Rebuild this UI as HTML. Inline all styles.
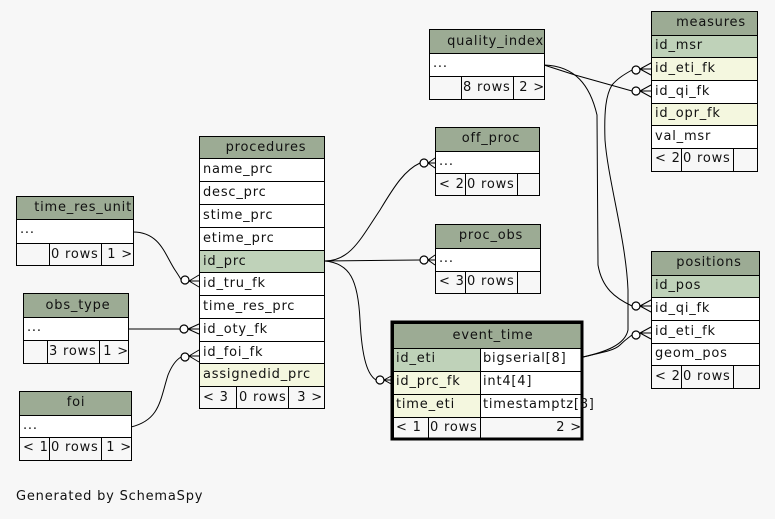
<!DOCTYPE html>
<html><head><meta charset="utf-8"><style>
html,body{margin:0;padding:0;background:#f7f7f7;}
svg{display:block}
text{font-family:"DejaVu Sans","Liberation Sans",sans-serif;font-size:13px;fill:#111;letter-spacing:0.8px}
.h{fill:#9cab94}.pk{fill:#bfd2b9}.fk{fill:#f4f7df}.w{fill:#fff}.f{fill:#f7f7f7}
rect{stroke:#000;stroke-width:1}
.e{fill:none;stroke:#000;stroke-width:1}
.c{fill:#fff;stroke:#000;stroke-width:1.2}
</style></head><body>
<svg width="775" height="519" viewBox="0 0 775 519" xmlns="http://www.w3.org/2000/svg">
<rect x="0" y="0" width="775" height="519" style="fill:#f7f7f7;stroke:none"/>

<path class="e" d="M324.5,261 C350,261 360,240 380,210 C395,185 405,170 420,163"/>
<path class="e" d="M324.5,261 L420,260"/>
<path class="e" d="M324.5,261 C350,263 358,280 360,320 C362,360 368,375 376,380"/>
<path class="e" d="M133,232 C160,232 165,255 175,270 C179,276 181,279 181,280"/>
<path class="e" d="M128,329 L180,329"/>
<path class="e" d="M131,427 C160,420 160,400 168,375 C172,365 176,360 181,357"/>
<path class="e" d="M544,65 L575,75 L632,91"/>
<path class="e" d="M544,65 C575,66 590,85 597,115 L598,265 C602,288 615,298 632,306"/>
<path class="e" d="M583,357 C605,352 625,345 628,330 L628,290 C626,240 608,180 605,140 C604,110 606,95 612,85 C618,78 625,74 632,70"/>
<path class="e" d="M583,357 C605,352 615,350 620,345 C625,340 628,338 632,335"/>

<g>
<circle class="c" cx="424" cy="163" r="4"/><path class="e" d="M428,163 L435,158 M428,163 L435,163 M428,163 L435,168"/>
<circle class="c" cx="424" cy="260" r="4"/><path class="e" d="M428,260 L435,255 M428,260 L435,260 M428,260 L435,265"/>
<circle class="c" cx="380" cy="380" r="4"/><path class="e" d="M384,380 L393,375 M384,380 L393,380 M384,380 L393,385"/>
<circle class="c" cx="185" cy="280" r="4"/><path class="e" d="M189,281 L199,275 M189,281 L199,281 M189,281 L199,287"/>
<circle class="c" cx="184" cy="329" r="4"/><path class="e" d="M188,329 L199,324 M188,329 L199,329 M188,329 L199,334"/>
<circle class="c" cx="185" cy="357" r="4"/><path class="e" d="M189,356 L199,350 M189,356 L199,356 M189,356 L199,362"/>
<circle class="c" cx="636" cy="70" r="4"/><path class="e" d="M640,69 L651,63 M640,69 L651,69 M640,69 L651,75"/>
<circle class="c" cx="636" cy="91" r="4"/><path class="e" d="M640,91 L651,85 M640,91 L651,91 M640,91 L651,97"/>
<circle class="c" cx="636" cy="306" r="4"/><path class="e" d="M640,306 L651,300 M640,306 L651,306 M640,306 L651,312"/>
<circle class="c" cx="636" cy="335" r="4"/><path class="e" d="M640,333 L651,327 M640,333 L651,333 M640,333 L651,339"/>
</g>

<g>
<rect class="h" x="199.5" y="136.5" width="125" height="22"/><text x="266" y="151" text-anchor="middle">procedures</text>
<rect class="w" x="199.5" y="158.5" width="125" height="23"/><text x="203" y="173">name_prc</text>
<rect class="w" x="199.5" y="181.5" width="125" height="23"/><text x="203" y="196">desc_prc</text>
<rect class="w" x="199.5" y="204.5" width="125" height="23"/><text x="203" y="219">stime_prc</text>
<rect class="w" x="199.5" y="227.5" width="125" height="23"/><text x="203" y="242">etime_prc</text>
<rect class="pk" x="199.5" y="250.5" width="125" height="22"/><text x="203" y="265">id_prc</text>
<rect class="w" x="199.5" y="272.5" width="125" height="23"/><text x="203" y="287">id_tru_fk</text>
<rect class="w" x="199.5" y="295.5" width="125" height="23"/><text x="203" y="310">time_res_prc</text>
<rect class="w" x="199.5" y="318.5" width="125" height="23"/><text x="203" y="333">id_oty_fk</text>
<rect class="w" x="199.5" y="341.5" width="125" height="22"/><text x="203" y="356">id_foi_fk</text>
<rect class="fk" x="199.5" y="363.5" width="125" height="23"/><text x="203" y="378">assignedid_prc</text>
<rect class="f" x="199.5" y="386.5" width="37" height="22"/><text x="203" y="401">&lt; 3</text>
<rect class="f" x="236.5" y="386.5" width="52" height="22"/><text x="239" y="401">0 rows</text>
<rect class="f" x="288.5" y="386.5" width="36" height="22"/><text x="323" y="401" text-anchor="end">3 &gt;</text>
</g>

<g>
<rect class="h" x="16.5" y="196.5" width="117" height="23"/><text x="132" y="211" text-anchor="end">time_res_unit</text>
<rect class="w" x="16.5" y="219.5" width="117" height="24"/><text x="20" y="233">...</text>
<rect class="f" x="16.5" y="243.5" width="33" height="22"/>
<rect class="f" x="49.5" y="243.5" width="52" height="22"/><text x="51" y="258">0 rows</text>
<rect class="f" x="101.5" y="243.5" width="32" height="22"/><text x="133" y="258" text-anchor="end">1 &gt;</text>
</g>

<g>
<rect class="h" x="23.5" y="293.5" width="105" height="24"/><text x="78" y="309" text-anchor="middle">obs_type</text>
<rect class="w" x="23.5" y="317.5" width="105" height="23"/><text x="27" y="331">...</text>
<rect class="f" x="23.5" y="340.5" width="24" height="23"/>
<rect class="f" x="47.5" y="340.5" width="52" height="23"/><text x="49" y="355">3 rows</text>
<rect class="f" x="99.5" y="340.5" width="29" height="23"/><text x="129" y="355" text-anchor="end">1 &gt;</text>
</g>

<g>
<rect class="h" x="19.5" y="391.5" width="112" height="24"/><text x="76" y="406" text-anchor="middle">foi</text>
<rect class="w" x="19.5" y="415.5" width="112" height="22"/><text x="23" y="429">...</text>
<rect class="f" x="19.5" y="437.5" width="30" height="23"/><text x="23" y="451">&lt; 1</text>
<rect class="f" x="49.5" y="437.5" width="52" height="23"/><text x="51" y="451">0 rows</text>
<rect class="f" x="101.5" y="437.5" width="30" height="23"/><text x="132" y="451" text-anchor="end">1 &gt;</text>
</g>

<g>
<rect class="h" x="429.5" y="29.5" width="115" height="24"/><text x="544" y="45" text-anchor="end">quality_index</text>
<rect class="w" x="429.5" y="53.5" width="115" height="23"/><text x="433" y="67">...</text>
<rect class="f" x="429.5" y="76.5" width="32" height="23"/>
<rect class="f" x="461.5" y="76.5" width="52" height="23"/><text x="463" y="91">8 rows</text>
<rect class="f" x="513.5" y="76.5" width="31" height="23"/><text x="545" y="91" text-anchor="end">2 &gt;</text>
</g>

<g>
<rect class="h" x="435.5" y="127.5" width="104" height="24"/><text x="491" y="142" text-anchor="middle">off_proc</text>
<rect class="w" x="435.5" y="151.5" width="104" height="22"/><text x="439" y="165">...</text>
<rect class="f" x="435.5" y="173.5" width="30" height="22"/><text x="439" y="188">&lt; 2</text>
<rect class="f" x="465.5" y="173.5" width="52" height="22"/><text x="467" y="188">0 rows</text>
<rect class="f" x="517.5" y="173.5" width="22" height="22"/>
</g>

<g>
<rect class="h" x="435.5" y="224.5" width="105" height="24"/><text x="491" y="239" text-anchor="middle">proc_obs</text>
<rect class="w" x="435.5" y="248.5" width="105" height="23"/><text x="439" y="262">...</text>
<rect class="f" x="435.5" y="271.5" width="30" height="22"/><text x="439" y="285">&lt; 3</text>
<rect class="f" x="465.5" y="271.5" width="52" height="22"/><text x="467" y="285">0 rows</text>
<rect class="f" x="517.5" y="271.5" width="23" height="22"/>
</g>

<g>
<rect class="h" x="651.5" y="11.5" width="106" height="24"/><text x="711" y="26" text-anchor="middle">measures</text>
<rect class="pk" x="651.5" y="35.5" width="106" height="22"/><text x="655" y="49">id_msr</text>
<rect class="fk" x="651.5" y="57.5" width="106" height="23"/><text x="655" y="72">id_eti_fk</text>
<rect class="w" x="651.5" y="80.5" width="106" height="23"/><text x="655" y="95">id_qi_fk</text>
<rect class="fk" x="651.5" y="103.5" width="106" height="22"/><text x="655" y="117">id_opr_fk</text>
<rect class="w" x="651.5" y="125.5" width="106" height="23"/><text x="655" y="140">val_msr</text>
<rect class="f" x="651.5" y="148.5" width="30" height="23"/><text x="655" y="162">&lt; 2</text>
<rect class="f" x="681.5" y="148.5" width="52" height="23"/><text x="683" y="162">0 rows</text>
<rect class="f" x="733.5" y="148.5" width="24" height="23"/>
</g>

<g>
<rect class="h" x="651.5" y="251.5" width="108" height="24"/><text x="709" y="266" text-anchor="middle">positions</text>
<rect class="pk" x="651.5" y="275.5" width="108" height="22"/><text x="655" y="289">id_pos</text>
<rect class="w" x="651.5" y="297.5" width="108" height="23"/><text x="655" y="312">id_qi_fk</text>
<rect class="w" x="651.5" y="320.5" width="108" height="23"/><text x="655" y="335">id_eti_fk</text>
<rect class="w" x="651.5" y="343.5" width="108" height="22"/><text x="655" y="357">geom_pos</text>
<rect class="f" x="651.5" y="365.5" width="30" height="23"/><text x="655" y="380">&lt; 2</text>
<rect class="f" x="681.5" y="365.5" width="52" height="23"/><text x="683" y="380">0 rows</text>
<rect class="f" x="733.5" y="365.5" width="26" height="23"/>
</g>

<g>
<rect class="h" x="393.5" y="323.5" width="188" height="25"/><text x="493" y="339" text-anchor="middle">event_time</text>
<rect class="pk" x="393.5" y="348.5" width="87" height="23"/><text x="396" y="362">id_eti</text>
<rect class="w" x="480.5" y="348.5" width="101" height="23"/><text x="483" y="362">bigserial[8]</text>
<rect class="fk" x="393.5" y="371.5" width="87" height="23"/><text x="396" y="385">id_prc_fk</text>
<rect class="w" x="480.5" y="371.5" width="101" height="23"/><text x="483" y="385">int4[4]</text>
<rect class="fk" x="393.5" y="394.5" width="87" height="23"/><text x="396" y="408">time_eti</text>
<rect class="w" x="480.5" y="394.5" width="101" height="23"/>
<rect class="f" x="393.5" y="417.5" width="35" height="21"/><text x="396" y="431">&lt; 1</text>
<rect class="f" x="428.5" y="417.5" width="52" height="21"/><text x="430" y="431">0 rows</text>
<rect class="f" x="480.5" y="417.5" width="101" height="21"/><text x="582" y="431" text-anchor="end">2 &gt;</text>
<rect x="392" y="322" width="190" height="117" style="fill:none;stroke:#000;stroke-width:3"/>
<text x="483" y="408">timestamptz[8]</text>
</g>

<text x="16" y="500">Generated by SchemaSpy</text>
</svg>
</body></html>
